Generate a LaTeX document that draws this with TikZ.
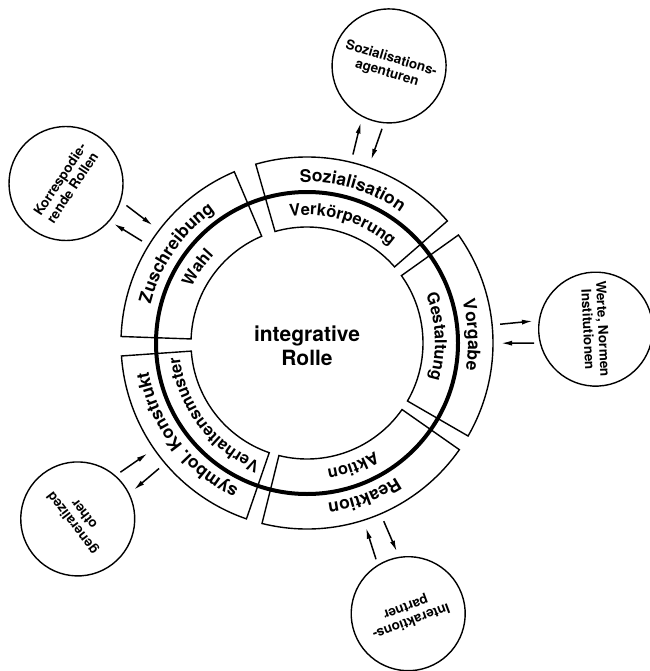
\documentclass[tikz,border=0pt]{standalone}
\usepackage{fontspec}
\setmainfont{TeX Gyre Heros}
\usetikzlibrary{calc,decorations.text,arrows.meta}
\newcommand\ringsector[2]{%
  \draw[sector] ($(C)+(#1:116pt)$) arc[start angle=#1, end angle=#2, radius=116pt]
    -- ($(C)+(#2:186pt)$) arc[start angle=#2, end angle=#1, radius=186pt] -- cycle;}
\begin{document}
\begin{tikzpicture}[x=1pt,y=1pt,
  sector/.style={draw, line width=1.4pt, line join=miter},
  thickring/.style={line width=4pt},
  outerlabel/.style={decorate, decoration={text along path, text align=center,
      text={|\fontsize{17.5}{17.5}\selectfont\bfseries|#1}}},
  innerlabel/.style={decorate, decoration={text along path, text align=center,
      text={|\fontsize{16.5}{16.5}\selectfont\bfseries|#1}}},
  partner/.style={circle, draw, line width=1.4pt, minimum size=114pt, inner sep=0pt,
      align=center, font=\fontsize{13.5}{15}\selectfont\bfseries},
  arr/.style={line width=1.5pt, -{Latex[length=11pt,width=5pt]}},
  centertext/.style={align=center, font=\fontsize{21}{24}\selectfont\bfseries}
]
\useasboundingbox (0,0) rectangle (649,-671);
\coordinate (C) at (307,-343);

% ring sectors
\ringsector{106}{41}
\ringsector{35.5}{-30}
\ringsector{-35}{-104}
\ringsector{-109}{-176}
\ringsector{178}{113}

% thick circle
\draw[thickring] (C) circle[radius=151pt];

% outer labels
\path[outerlabel=Sozialisation] ($(C)+(106:161pt)$) arc[start angle=106, end angle=41, radius=161pt];
\path[outerlabel=Vorgabe] ($(C)+(35.5:161pt)$) arc[start angle=35.5, end angle=-30, radius=161pt];
\path[outerlabel=Reaktion] ($(C)+(-35:161pt)$) arc[start angle=-35, end angle=-104, radius=161pt];
\path[outerlabel={symbol. Konstrukt}] ($(C)+(-109:161pt)$) arc[start angle=-109, end angle=-176, radius=161pt];
\path[outerlabel=Zuschreibung] ($(C)+(178:161pt)$) arc[start angle=178, end angle=113, radius=161pt];

% inner labels
\path[innerlabel=Verkörperung] ($(C)+(106:128pt)$) arc[start angle=106, end angle=41, radius=128pt];
\path[innerlabel=Gestaltung] ($(C)+(35.5:128pt)$) arc[start angle=35.5, end angle=-30, radius=128pt];
\path[innerlabel=Aktion] ($(C)+(-35:128pt)$) arc[start angle=-35, end angle=-104, radius=128pt];
\path[innerlabel=Verhaltensmuster] ($(C)+(-108:128pt)$) arc[start angle=-108, end angle=-177, radius=128pt];
\path[innerlabel=Wahl] ($(C)+(178:128pt)$) arc[start angle=178, end angle=113, radius=128pt];

% center
\node[centertext] (title) at ($(C)+(0,-3)$) {integrative\\Rolle};

% partner circles
\node[partner, rotate=-16.5] (p1) at ($(C)+(73.5:289pt)$) {Sozialisations-\\agenturen};
\node[partner, rotate=-87.25] (p2) at ($(C)+(2.75:289pt)$) {Werte, Normen\\Institutionen};
\node[partner, rotate=-159.5] (p3) at ($(C)+(-69.5:289pt)$) {Interaktions-\\partner};
\node[partner, rotate=-232.5] (p4) at ($(C)+(-142.5:289pt)$) {generalized\\other};
\node[partner, rotate=56.5] (p5) at ($(C)+(146.5:289pt)$) {Korrespodie-\\rende Rollen};

% arrow pairs
\foreach \t [count=\k] in {73.5,2.75,-69.5,-142.5,145.5}{
  \pgfmathsetmacro\ta{\t+2.8}
  \pgfmathsetmacro\tb{\t-2.8}
  \coordinate (a\k i) at ($(C)+(\ta:194pt)$);
  \coordinate (a\k o) at ($(C)+(\ta:227pt)$);
  \coordinate (b\k o) at ($(C)+(\tb:227pt)$);
  \coordinate (b\k i) at ($(C)+(\tb:194pt)$);
  \draw[arr] (a\k i) -- (a\k o);
  \draw[arr] (b\k o) -- (b\k i);
}
\end{tikzpicture}
\end{document}
